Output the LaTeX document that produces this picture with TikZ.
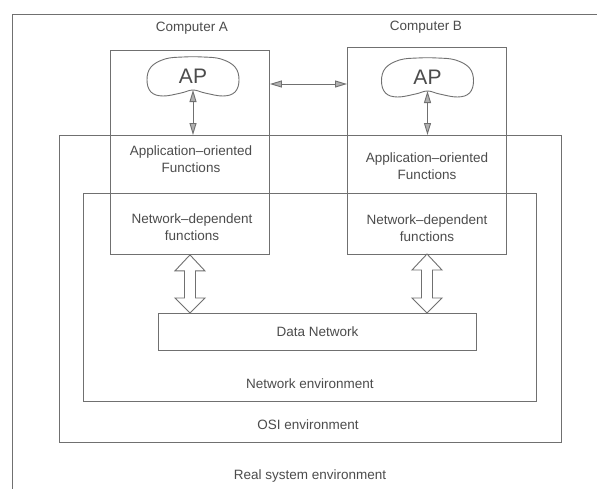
\documentclass[tikz,border=0pt]{standalone}
\usepackage{fontspec}
\setmainfont{Liberation Sans}
\usetikzlibrary{arrows.meta,calc}
\definecolor{linegray}{HTML}{707070}
\definecolor{textgray}{HTML}{4C4C4C}
\definecolor{headgray}{HTML}{B0B0B0}
\newcommand\fatdarrow[2]{%
  \draw[fatarrow] let \p1=(#1), \p2=(#2) in
    (\x1,\y1) -- (\x1+15pt,\y1-16pt) -- (\x1+5.5pt,\y1-16pt) --
    (\x1+5.5pt,\y2+15pt) -- (\x1+15pt,\y2+15pt) -- (\x1,\y2) --
    (\x1-15pt,\y2+15pt) -- (\x1-5.5pt,\y2+15pt) -- (\x1-5.5pt,\y1-16pt) --
    (\x1-15pt,\y1-16pt) -- cycle;}
\begin{document}
\begin{tikzpicture}[x=1pt,y=-1pt,
  envbox/.style={draw=linegray,line width=0.9pt,rectangle,inner sep=0pt,anchor=north west},
  lbl/.style={text=textgray,font=\fontsize{13.5}{17}\selectfont,align=center,inner sep=0pt},
  aplbl/.style={text=textgray,font=\fontsize{21}{24}\selectfont,inner sep=0pt},
  cloudline/.style={draw=linegray,line width=0.9pt},
  thinarrow/.style={draw=linegray,line width=0.9pt,
    {Triangle[length=12pt,width=7pt,fill=headgray]}-{Triangle[length=12pt,width=7pt,fill=headgray]}},
  fatarrow/.style={draw=linegray,line width=0.9pt,fill=white,line join=miter},
  cloudshape/.pic={\draw[cloudline] plot[smooth cycle,tension=0.65] coordinates
     {(0,13) (-12,16) (-30,19) (-42,15) (-46,3) (-42,-10) (-28,-18) (-10,-20)
      (10,-20) (28,-18) (42,-10) (46,3) (42,15) (30,19) (12,16)};}
]
\useasboundingbox (0,0) rectangle (597,488);
\clip (0,0) rectangle (597,488);
\fill[white] (0,0) rectangle (597,488);

% environment boxes
\node[envbox,minimum width=600pt,minimum height=490pt] (real) at (12,14) {};
\node[envbox,minimum width=502pt,minimum height=307pt] (osi) at (59,135) {};
\node[envbox,minimum width=453pt,minimum height=208pt] (netenv) at (83,193) {};
\node[envbox,minimum width=159pt,minimum height=204pt] (compA) at (110,50) {};
\node[envbox,minimum width=159pt,minimum height=207pt] (compB) at (347,47) {};
\node[envbox,minimum width=318pt,minimum height=37pt] (data) at (158,313) {};

% labels
\node[lbl] (labA) at (192,28) {Computer A};
\node[lbl] (labB) at (426,27) {Computer B};
\node[lbl] (appA) at (191,159) {Application–oriented\\Functions};
\node[lbl] (appB) at (427,166) {Application–oriented\\Functions};
\node[lbl] (netA) at (192,227) {Network–dependent\\functions};
\node[lbl] (netB) at (427,228) {Network–dependent\\functions};
\node[lbl] (dataL) at (data.center) {Data Network};
\node[lbl] (netenvL) at (310,384) {Network environment};
\node[lbl] (osiL) at (308,425) {OSI environment};
\node[lbl] (realL) at (310,476) {Real system environment};

% application processes
\pic at (193,77) {cloudshape};
\node[aplbl] (apA) at (193,76) {AP};
\coordinate (apAb) at (193,90);
\pic at (427.5,78) {cloudshape};
\node[aplbl] (apB) at (427.5,77) {AP};
\coordinate (apBb) at (427.5,91);

% connectors
\draw[thinarrow] (apAb) -- (apAb |- osi.north);
\draw[thinarrow] (apBb) -- (apBb |- osi.north);
\draw[thinarrow] (compA.east |- 0,84) -- (compB.west |- 0,84);
\coordinate (fatAtop) at (compA.south);
\coordinate (fatBtop) at (427,254);
\fatdarrow{fatAtop}{fatAtop |- data.north}
\fatdarrow{fatBtop}{fatBtop |- data.north}
\end{tikzpicture}
\end{document}
